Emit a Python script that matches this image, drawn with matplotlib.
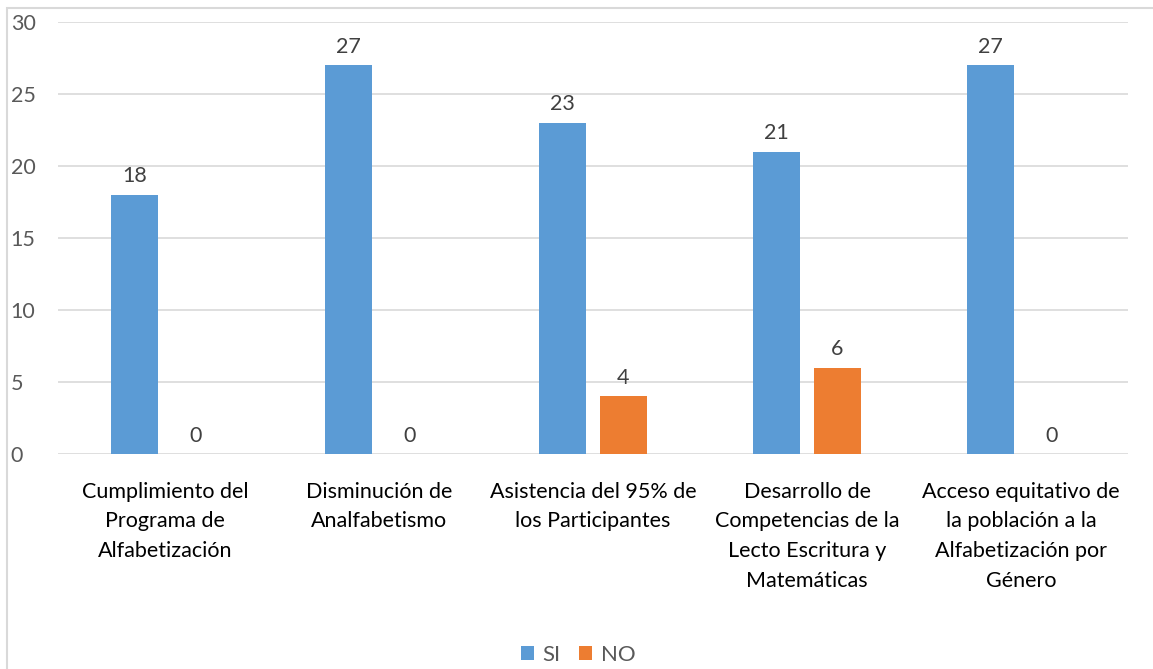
import numpy as np
import matplotlib.pyplot as plt
from matplotlib.patches import Rectangle

categories = [
    "Cumplimiento del\nPrograma de\nAlfabetización",
    "Disminución de\nAnalfabetismo",
    "Asistencia del 95% de\nlos Participantes",
    "Desarrollo de\nCompetencias de la\nLecto Escritura y\nMatemáticas",
    "Acceso equitativo de\nla población a la\nAlfabetización por\nGénero",
]
si_values = [18, 27, 23, 21, 27]
no_values = [0, 0, 4, 6, 0]
y_ticks = [0, 5, 10, 15, 20, 25, 30]

blue = '#5B9BD5'
orange = '#ED7D31'
plt.rcParams['font.family'] = ['Lato', 'DejaVu Sans']

fig = plt.figure(figsize=(11.53, 6.69), dpi=100)
ax = fig.add_axes([58 / 1153, 215 / 669, 1070 / 1153, 432 / 669])

# outer chart frame (extends past right/bottom edge like the source)
fig.patches.append(Rectangle((7 / 1153, -0.1), 1.2, 1 - 8 / 669 + 0.1,
                             transform=fig.transFigure, fill=False,
                             edgecolor='#D9D9D9', linewidth=1.5))

x = np.arange(len(categories))
width = 0.224
offset = 0.1425
bars_si = ax.bar(x - offset, si_values, width, color=blue, label='SI', zorder=3)
bars_no = ax.bar(x + offset, no_values, width, color=orange, label='NO', zorder=3)

for bars in (bars_si, bars_no):
    for b in bars:
        h = b.get_height()
        ax.annotate(f'{h:g}', (b.get_x() + b.get_width() / 2, h),
                    xytext=(0, 6), textcoords='offset points',
                    ha='center', va='bottom', fontsize=15.5, color='#404040')

ax.set_xlim(-0.5, len(categories) - 0.5)
ax.set_ylim(0, 30)
ax.set_yticks(y_ticks)
ax.set_xticks(x)
ax.set_xticklabels(categories, fontsize=15.5, color='#000000', linespacing=1.6)
ax.tick_params(axis='y', length=0, labelsize=15.5, labelcolor='#595959', pad=34)
ax.tick_params(axis='x', length=0, pad=20)
ax.grid(axis='y', color='#D9D9D9', linewidth=1.2, zorder=0)
for s in ax.spines.values():
    s.set_visible(False)
for lbl in ax.get_yticklabels():
    lbl.set_horizontalalignment('left')

fig.legend(loc='center', bbox_to_anchor=(578 / 1153, 1 - 655 / 669), ncol=2,
           frameon=False, fontsize=16, handlelength=0.6, handleheight=0.6,
           handletextpad=0.4, columnspacing=0.8, labelcolor='#595959')

fig.savefig('out.png', dpi=100)
